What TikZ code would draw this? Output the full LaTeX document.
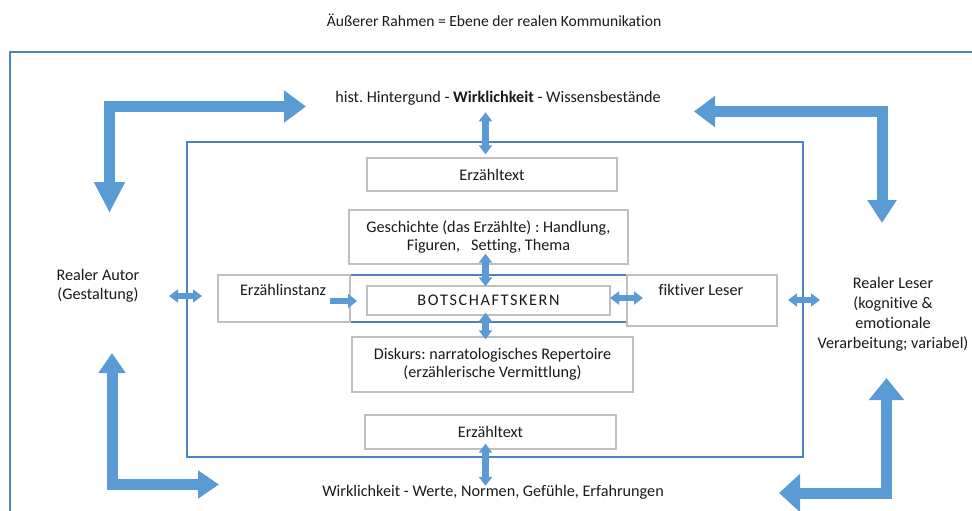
\documentclass[tikz,border=0pt]{standalone}
\usepackage{fontspec}
\setmainfont{Carlito}[Ligatures=NoCommon]
\usetikzlibrary{arrows.meta}
\definecolor{arrowblue}{HTML}{5B9BD5}
\definecolor{frameblue}{HTML}{4F81BD}
\definecolor{boxgray}{HTML}{BFBFBF}
\definecolor{ink}{HTML}{1A1A1A}
\frenchspacing
\newcommand\spaced[1]{\def\gap{\kern1.6pt}\spacedloop#1\relax}
\def\spacedloop#1#2{#1\ifx#2\relax\else\gap\expandafter\spacedloop\expandafter#2\fi}
\tikzset{
  frameline/.style={draw=frameblue, line width=1.3pt},
  box/.style={draw=boxgray, line width=1.3pt, inner sep=0pt, align=center, fill=white, text=ink},
  label/.style={inner sep=0pt, align=center, text=ink},
  dbl/.style={draw=arrowblue, line width=6.5pt,
    {Triangle[width=13pt,length=9pt]}-{Triangle[width=13pt,length=9pt]}},
  sgl/.style={draw=arrowblue, line width=6.5pt, -{Triangle[width=14pt,length=9pt]}},
  big/.style={draw=arrowblue, line width=11pt, line join=miter},
}
\begin{document}
\begin{tikzpicture}[x=1pt, y=-1pt, font=\fontsize{16.2}{18}\selectfont]
\useasboundingbox (0,0) rectangle (972,511);

% title and outer frame
\node[label, font=\fontsize{15.6}{18}\selectfont] (title) at (494,20) {Äußerer Rahmen = Ebene der realen Kommunikation};
\draw[frameline] (972,52) -- (10,52) -- (10,511);

% inner frame
\node[frameline, minimum width=616, minimum height=315, inner sep=0pt] (inner) at (495,299.5) {};

% outer labels
\node[label] (hist) at (498,98) {hist. Hintergund - \textbf{Wirklichkeit} - Wissensbestände};
\node[label] (wirk) at (493,492) {Wirklichkeit - Werte, Normen, Gefühle, Erfahrungen};
\node[label, font=\fontsize{16.2}{19.5}\selectfont] (autor) at (98,286) {Realer Autor\\(Gestaltung)};
\node[label, font=\fontsize{16.2}{20}\selectfont] (leser) at (893,314.5) {Realer Leser\\(kognitive \&\\emotionale\\Verarbeitung; variabel)};

% boxes inside the inner frame
\node[box, minimum width=250, minimum height=33] (txtTop) at (492,174.5) {Erzähltext};
\node[box, minimum width=279, minimum height=54] (gesch) at (488.5,237) {Geschichte (das Erzählte) : Handlung,\\Figuren, \ \ Setting, Thema};
\node[frameline, minimum width=277, minimum height=47, inner sep=0pt] (band) at (488.5,298.5) {};
\node[box, minimum width=132, minimum height=47] (inst) at (284,298.5) {};
\node[label] (instT) at (283,290) {Erzählinstanz};
\node[box, minimum width=150, minimum height=51] (fikt) at (702,300.5) {};
\node[label] (fiktT) at (701,290) {fiktiver Leser};
\node[box, minimum width=243, minimum height=29] (kern) at (488.5,300.5) {\spaced{BOTSCHAFTSKERN}};
\node[box, minimum width=281, minimum height=55] (disk) at (492.5,364.5) {Diskurs: narratologisches Repertoire\\(erzählerische Vermittlung)};
\node[box, minimum width=251, minimum height=34] (txtBot) at (490.5,432) {Erzähltext};

% small connectors
\coordinate (ax) at (485.5,0);
\draw[dbl, shorten <=7pt, shorten >=3pt] (hist.south -| ax) -- (txtTop.north -| ax);
\draw[dbl, shorten <=-11pt, shorten >=-1pt] (gesch.south -| ax) -- (kern.north -| ax);
\draw[dbl, shorten <=-3pt, shorten >=-3pt] (kern.south -| ax) -- (disk.north -| ax);
\draw[dbl, shorten <=-6pt, shorten >=-1pt] (txtBot.south -| ax) -- (wirk.north -| ax);

\coordinate (autorR) at (169,296);
\coordinate (frameL) at (202,296);
\draw[dbl] (autorR) -- (frameL);
\coordinate (kernR) at (610,298);
\coordinate (fiktL) at (643,298);
\draw[dbl] (kernR) -- (fiktL);
\coordinate (frameR) at (788,300);
\coordinate (leserL) at (820,300);
\draw[dbl] (frameR) -- (leserL);
\coordinate (instR) at (330,301);
\coordinate (bandL) at (357,301);
\draw[sgl] (instR) -- (bandL);

% large L-shaped arrows
\coordinate (tlDown) at (109.5,213);
\coordinate (tlCorner) at (109.5,106.5);
\coordinate (tlRight) at (306,106.5);
\draw[big, {Triangle[width=29pt,length=31pt]}-{Triangle[width=31pt,length=22pt]}] (tlDown) -- (tlCorner) -- (tlRight);

\coordinate (trLeft) at (694,111.5);
\coordinate (trCorner) at (882,111.5);
\coordinate (trDown) at (882,223);
\draw[big, {Triangle[width=30pt,length=21pt]}-{Triangle[width=28pt,length=23pt]}] (trLeft) -- (trCorner) -- (trDown);

\coordinate (blUp) at (112,353);
\coordinate (blCorner) at (112,484.5);
\coordinate (blRight) at (219,484.5);
\draw[big, {Triangle[width=26pt,length=20pt]}-{Triangle[width=27pt,length=21pt]}] (blUp) -- (blCorner) -- (blRight);

\coordinate (brUp) at (886.5,378);
\coordinate (brCorner) at (886.5,493);
\coordinate (brLeft) at (779,493);
\draw[big, {Triangle[width=34pt,length=22pt]}-{Triangle[width=37pt,length=21pt]}] (brUp) -- (brCorner) -- (brLeft);
\end{tikzpicture}
\end{document}
